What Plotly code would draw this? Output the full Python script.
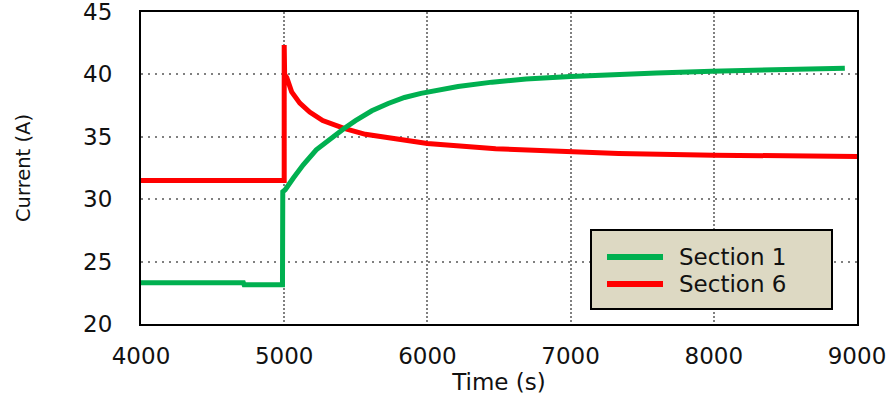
import plotly.graph_objects as go

# Section 1 current (A) against time (s)
s1_time = [4000, 4715, 4720, 4988, 4990, 5007, 5064, 5133, 5224, 5338, 5418, 5498,
           5612, 5726, 5840, 5955, 6119, 6214, 6451, 6689, 6999, 7264, 7600, 7986,
           8400, 8915]
s1_current = [23.3, 23.3, 23.15, 23.15, 30.6, 30.76, 31.7, 32.76, 33.96, 35.02, 35.67,
              36.3, 37.08, 37.67, 38.15, 38.48, 38.85, 39.03, 39.38, 39.63, 39.84,
              39.98, 40.12, 40.26, 40.38, 40.5]

# Section 6 current (A) against time (s)
s6_time = [4000, 5000, 5000, 5003, 5018, 5052, 5109, 5178, 5269, 5418, 5567, 5772,
           6000, 6477, 7000, 7335, 8000, 9000]
s6_current = [31.5, 31.5, 42.35, 40.0, 39.75, 38.6, 37.7, 36.98, 36.3, 35.67, 35.2,
              34.82, 34.47, 34.05, 33.78, 33.67, 33.53, 33.42]

x_ticks = [4000, 5000, 6000, 7000, 8000, 9000]
y_ticks = [20, 25, 30, 35, 40, 45]
series_names = ["Section 1", "Section 6"]
series_colors = ["#00B050", "#FF0000"]

W, H = 896, 398
L, R, T, B = 141, 857, 12, 324


def px(x):
    return (x - L) / (R - L)


def py(y):
    return (B - y) / (B - T)


fig = go.Figure()
fig.add_trace(go.Scatter(x=s6_time, y=s6_current, mode="lines", name=series_names[1],
                         line=dict(color=series_colors[1], width=5), showlegend=False))
fig.add_trace(go.Scatter(x=s1_time, y=s1_current, mode="lines", name=series_names[0],
                         line=dict(color=series_colors[0], width=5), showlegend=False))

font_main = "DejaVu Sans"
text_col = "#111111"
fs = 23

fig.update_layout(
    width=W, height=H,
    margin=dict(l=L, r=W - R, t=T, b=H - B, autoexpand=False),
    paper_bgcolor="white", plot_bgcolor="white",
    font=dict(family=font_main, size=fs, color=text_col),
    xaxis=dict(range=[4000, 9000], tickvals=x_ticks, ticks="", showline=True,
               linecolor="black", linewidth=2, mirror=True, automargin=False,
               showgrid=True, gridcolor="#808080", gridwidth=2, griddash="2px,2px",
               zeroline=False, ticklabelstandoff=10, ticklabeloverflow="allow",
               tickfont=dict(family=font_main, size=fs, color=text_col),
               title=dict(text="Time (s)", standoff=6,
                          font=dict(family=font_main, size=fs, color=text_col))),
    yaxis=dict(range=[20, 45], tickvals=y_ticks, ticks="", showline=True,
               linecolor="black", linewidth=2, mirror=True, automargin=False,
               showgrid=True, gridcolor="#808080", gridwidth=2, griddash="2px,5px",
               zeroline=False, ticklabelstandoff=22, ticklabeloverflow="allow",
               tickfont=dict(family=font_main, size=fs, color=text_col),
               title=dict(text="Current (A)", standoff=47,
                          font=dict(family=font_main, size=19.5, color=text_col))),
)

# Legend box with line samples
shapes = [
    dict(type="rect", xref="paper", yref="paper", x0=px(591), x1=px(832),
         y0=py(309), y1=py(230), fillcolor="#DDD9C3",
         line=dict(color="black", width=2), layer="above"),
]
annotations = []
for i, (name, col) in enumerate(zip(series_names, series_colors)):
    yy = 257 + i * 27
    shapes.append(dict(type="line", xref="paper", yref="paper", x0=px(607), x1=px(663),
                       y0=py(yy), y1=py(yy), line=dict(color=col, width=6), layer="above"))
    annotations.append(dict(xref="paper", yref="paper", x=px(677), y=py(yy), text=name,
                            showarrow=False, xanchor="left", yanchor="middle",
                            font=dict(family=font_main, size=fs, color=text_col)))
fig.update_layout(shapes=shapes, annotations=annotations)

fig.write_html("out.html")
